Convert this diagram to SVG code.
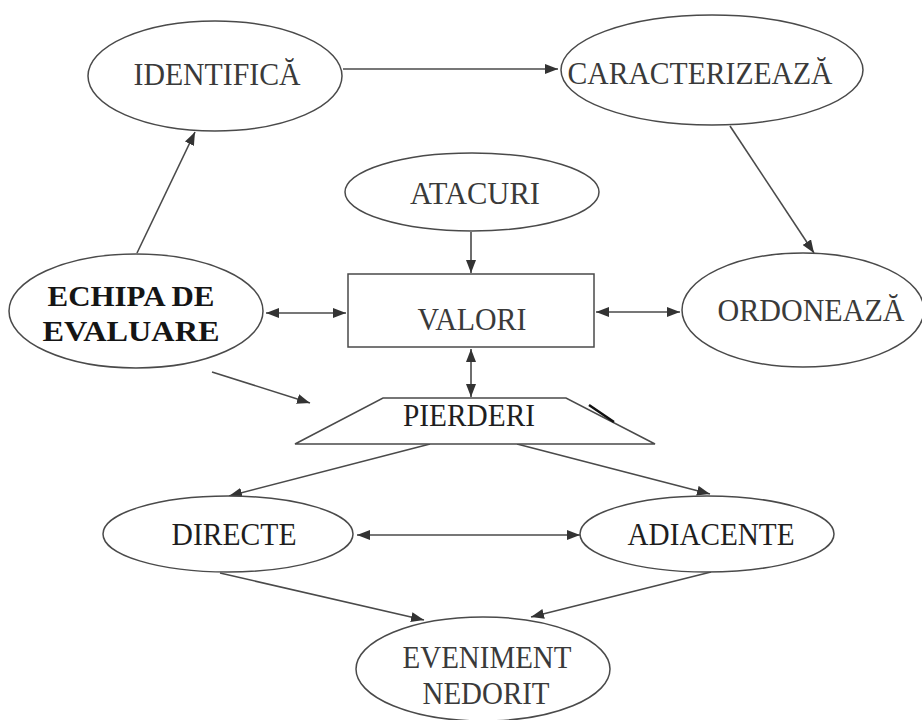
<svg xmlns="http://www.w3.org/2000/svg" width="922" height="720" viewBox="0 0 922 720">
<style>
.shape{fill:#fff;stroke:#4a4a4a;stroke-width:1.5}
.lbl{font-family:"Liberation Serif","Times New Roman",serif;font-size:32px;fill:#3a3a3a;text-anchor:middle}
.dark{fill:#1e1e1e}
.bold{font-weight:bold;fill:#151515;font-size:29px}
.con{stroke:#4a4a4a;stroke-width:1.6;fill:none}
</style>
<defs>
<marker id="ah" markerWidth="14" markerHeight="10" refX="13" refY="5" orient="auto-start-reverse" markerUnits="userSpaceOnUse">
<path d="M0,0 L13,5 L0,10 z" fill="#333"/>
</marker>
</defs>
<rect width="922" height="720" fill="#fff"/>
<g id="connectors">
<line class="con" x1="343" y1="69" x2="558" y2="69" marker-end="url(#ah)"/>
<line class="con" x1="137" y1="253" x2="195" y2="132" marker-end="url(#ah)"/>
<line class="con" x1="730" y1="126" x2="814" y2="253" marker-end="url(#ah)"/>
<line class="con" x1="471" y1="232" x2="471" y2="273" marker-end="url(#ah)"/>
<line class="con" x1="266" y1="313" x2="346" y2="313" marker-start="url(#ah)" marker-end="url(#ah)"/>
<line class="con" x1="596" y1="312" x2="680" y2="312" marker-start="url(#ah)" marker-end="url(#ah)"/>
<line class="con" x1="471" y1="349" x2="471" y2="397" marker-start="url(#ah)" marker-end="url(#ah)"/>
<line class="con" x1="212" y1="372" x2="310" y2="403" marker-end="url(#ah)"/>
<line class="con" x1="430" y1="444" x2="229" y2="496" marker-end="url(#ah)"/>
<line class="con" x1="517" y1="444" x2="710" y2="494" marker-end="url(#ah)"/>
<line class="con" x1="357" y1="535" x2="580" y2="535" marker-start="url(#ah)" marker-end="url(#ah)"/>
<line class="con" x1="220" y1="573" x2="424" y2="620" marker-end="url(#ah)"/>
<line class="con" x1="711" y1="572" x2="531" y2="617" marker-end="url(#ah)"/>
</g>
<g id="identifica">
<ellipse class="shape" cx="215" cy="76" rx="127" ry="55"/>
<text class="lbl" x="217" y="85" textLength="167" lengthAdjust="spacingAndGlyphs">IDENTIFICĂ</text>
</g>
<g id="caracterizeaza">
<ellipse class="shape" cx="712" cy="70" rx="151" ry="55"/>
<text class="lbl" x="700" y="84" textLength="265" lengthAdjust="spacingAndGlyphs">CARACTERIZEAZĂ</text>
</g>
<g id="atacuri">
<ellipse class="shape" cx="472" cy="192" rx="127" ry="39"/>
<text class="lbl" x="475" y="204" textLength="130" lengthAdjust="spacingAndGlyphs">ATACURI</text>
</g>
<g id="valori">
<rect class="shape" x="348" y="274" width="246" height="73"/>
<text class="lbl" x="472" y="330" textLength="109" lengthAdjust="spacingAndGlyphs">VALORI</text>
</g>
<g id="echipa">
<ellipse class="shape" cx="136" cy="311" rx="127" ry="57"/>
<text class="lbl bold" x="131" y="306" textLength="167" lengthAdjust="spacingAndGlyphs">ECHIPA DE</text>
<text class="lbl bold" x="131" y="341" textLength="177" lengthAdjust="spacingAndGlyphs">EVALUARE</text>
</g>
<g id="ordoneaza">
<ellipse class="shape" cx="803" cy="310" rx="121" ry="57"/>
<text class="lbl" x="811" y="321" textLength="187" lengthAdjust="spacingAndGlyphs">ORDONEAZĂ</text>
</g>
<g id="pierderi">
<polygon class="shape" points="383,398 566,398 655,444 295,444"/>
<line x1="589" y1="405" x2="614" y2="422" stroke="#111" stroke-width="2.5"/>
<text class="lbl dark" x="469" y="426" textLength="132" lengthAdjust="spacingAndGlyphs">PIERDERI</text>
</g>
<g id="directe">
<ellipse class="shape" cx="228" cy="534" rx="125" ry="38"/>
<text class="lbl dark" x="234" y="545" textLength="125" lengthAdjust="spacingAndGlyphs">DIRECTE</text>
</g>
<g id="adiacente">
<ellipse class="shape" cx="707" cy="534" rx="127" ry="38"/>
<text class="lbl dark" x="711" y="545" textLength="167" lengthAdjust="spacingAndGlyphs">ADIACENTE</text>
</g>
<g id="eveniment">
<ellipse class="shape" cx="483" cy="669" rx="127" ry="52"/>
<text class="lbl" x="487" y="668" textLength="169" lengthAdjust="spacingAndGlyphs">EVENIMENT</text>
<text class="lbl" x="486" y="704" textLength="127" lengthAdjust="spacingAndGlyphs">NEDORIT</text>
</g>
</svg>
